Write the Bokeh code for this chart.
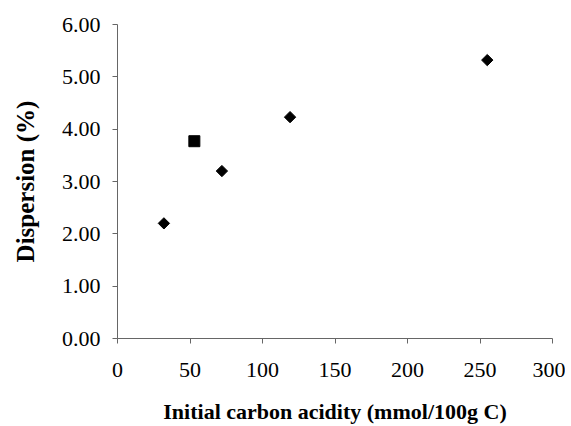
import math
from bokeh.plotting import figure
from bokeh.models import Range1d, FixedTicker, NumeralTickFormatter
from bokeh.embed import file_html
from bokeh.resources import INLINE

# data
diamond_x = [32, 72, 119, 255]
diamond_y = [2.20, 3.20, 4.23, 5.32]
square_x = [53]
square_y = [3.77]
x_ticks = [0, 50, 100, 150, 200, 250, 300]
y_ticks = [0, 1, 2, 3, 4, 5, 6]

FONT = "Liberation Serif"
AX = "#666666"

p = figure(width=565, height=426, output_backend="svg", toolbar_location=None,
           x_range=Range1d(0, 300), y_range=Range1d(0, 6),
           min_border_left=117, min_border_right=13, min_border_top=24, min_border_bottom=74)
p.outline_line_color = None
p.grid.grid_line_color = None

p.scatter(diamond_x, diamond_y, marker="square", angle=math.pi / 4, size=8,
          fill_color="black", line_color="black")
p.scatter(square_x, square_y, marker="square", size=11,
          fill_color="black", line_color="black")

for ax in (p.xaxis[0], p.yaxis[0]):
    ax.axis_line_color = AX
    ax.major_tick_line_color = AX
    ax.minor_tick_line_color = None
    ax.major_tick_in = 0
    ax.major_tick_out = 5
    ax.major_label_text_font = FONT
    ax.major_label_text_font_size = "22px"
    ax.major_label_text_color = "black"
    ax.axis_label_text_font = FONT
    ax.axis_label_text_font_style = "bold"
    ax.axis_label_text_color = "black"

p.xaxis.axis_label_text_font_size = "22px"
p.yaxis.axis_label_text_font_size = "25px"
p.xaxis.ticker = FixedTicker(ticks=x_ticks)
p.yaxis.ticker = FixedTicker(ticks=y_ticks)
p.yaxis.formatter = NumeralTickFormatter(format="0.00")
p.xaxis.major_label_standoff = 19
p.yaxis.major_label_standoff = 12
p.xaxis.axis_label = "Initial carbon acidity (mmol/100g C)"
p.yaxis.axis_label = "Dispersion (%)"
p.xaxis.axis_label_standoff = 19
p.yaxis.axis_label_standoff = 20

open("out.html", "w").write(file_html(p, INLINE))
